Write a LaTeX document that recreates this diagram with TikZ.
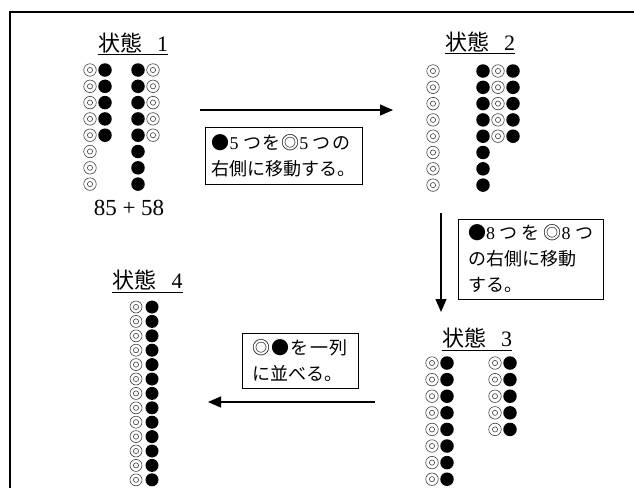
\documentclass[tikz,border=0pt]{standalone}
\usepackage{fontspec}
\setmainfont{Liberation Serif}
\newfontfamily\jpf{Noto Sans CJK JP}
\usetikzlibrary{arrows.meta}
\makeatletter
\newdimen\lsp
\newcommand\lspc[1]{\def\lsep{}\@tfor\jc:=#1\do{\lsep\jc\def\lsep{\kern\lsp}}}
\makeatother
\begin{document}
\begin{tikzpicture}[x=1pt,y=-1pt,
  ring/.style={circle, draw=black!75, line width=0.6pt, minimum size=12.5pt, inner sep=0pt,
    path picture={\draw[black!75, line width=0.6pt] (path picture bounding box.center) circle (2.6pt);}},
  bead/.style={circle, fill=black, minimum size=13.5pt, inner sep=0pt},
  sring/.style={ring, minimum size=12pt},
  sbead/.style={bead, minimum size=13pt},
  title/.style={font=\fontsize{22}{22}\selectfont, inner sep=0pt, anchor=base},
  uline/.style={line width=0.7pt},
  jbox/.style={draw, line width=0.9pt, inner sep=0pt, align=left, font=\fontsize{18}{26}\selectfont},
  arr/.style={line width=1.3pt, -{Triangle[length=13pt,width=11pt]}},
  frame/.style={line width=1.5pt}]
\useasboundingbox (0,0) rectangle (634,488);
\fill[white] (0,0) rectangle (634,488);
% frame
\coordinate (fr1) at (10,488);
\coordinate (fr2) at (10,12);
\coordinate (fr3) at (634,12);
\draw[frame] (fr1) -- (fr2) -- (fr3);

% ---- state 1
\node[title] (t1) at (133,51) {{\jpf 状態}\hspace{15pt}1};
\draw[uline] ([yshift=-3.5pt]t1.base west) -- ([yshift=-3.5pt]t1.base east);
\foreach \i in {0,...,7} {
  \node[ring] (s1a\i) at (90,{70+16.3*\i}) {};
  \node[bead] (s1c\i) at (138,{70+16.3*\i}) {};
}
\foreach \i in {0,...,4} {
  \node[bead] (s1b\i) at (105,{70+16.3*\i}) {};
  \node[ring] (s1d\i) at (153,{70+16.3*\i}) {};
}
\node[font=\fontsize{23}{23}\selectfont, inner sep=0pt] (sum1) at (129,208) {85 + 58};

% ---- state 2
\node[title] (t2) at (480,50) {{\jpf 状態}\hspace{15pt}2};
\draw[uline] ([yshift=-3.5pt]t2.base west) -- ([yshift=-3.5pt]t2.base east);
\foreach \i in {0,...,7} {
  \node[ring] (s2a\i) at (433,{71+16.3*\i}) {};
  \node[bead] (s2b\i) at (483,{71+16.3*\i}) {};
}
\foreach \i in {0,...,4} {
  \node[ring] (s2c\i) at (498,{71+16.3*\i}) {};
  \node[bead] (s2d\i) at (513,{71+16.3*\i}) {};
}

% ---- arrow 1 and box 1
\coordinate (a1s) at (200,110);
\coordinate (a1e) at (393,110);
\draw[arr] (a1s) -- (a1e);
\node[jbox, minimum width=157pt, minimum height=57pt] (m1) at (283.5,155.5)
  {\lsp=1.2pt{\jpf ●}5\ {\jpf\lspc{つを◎}}5\ {\jpf\lspc{つの}}\\
   {\jpf\lspc{右側に移動する。}}};

% ---- arrow 2 and box 2
\coordinate (a2s) at (441,213);
\coordinate (a2e) at (441,312);
\draw[arr] (a2s) -- (a2e);
\node[jbox, minimum width=145pt, minimum height=80pt] (m2) at (530.5,259)
  {\lsp=4pt{\jpf ●}8\ {\jpf\lspc{つを◎}}8\ {\jpf つ}\\
   {\jpf\lspc{の右側に移動}}\\
   {\jpf\lspc{する。}}};

% ---- state 3
\node[title] (t3) at (477,346) {{\jpf 状態}\hspace{15pt}3};
\draw[uline] ([yshift=-4.5pt]t3.base west) -- ([yshift=-4.5pt]t3.base east);
\foreach \i in {0,...,7} {
  \node[ring] (s3a\i) at (432,{363+16.6*\i}) {};
  \node[bead] (s3b\i) at (447,{363+16.6*\i}) {};
}
\foreach \i in {0,...,4} {
  \node[ring] (s3c\i) at (495,{363+16.6*\i}) {};
  \node[bead] (s3d\i) at (510,{363+16.6*\i}) {};
}

% ---- arrow 3 and box 3
\coordinate (a3s) at (375,402);
\coordinate (a3e) at (208,402);
\draw[arr] (a3s) -- (a3e);
\node[jbox, minimum width=116pt, minimum height=55pt] (m3) at (300,360.5)
  {\lsp=1.5pt{\jpf\lspc{◎●を一列}}\\
   {\jpf\lspc{に並べる。}}};

% ---- state 4
\node[title] (t4) at (147.5,288) {{\jpf 状態}\hspace{15pt}4};
\draw[uline] ([yshift=-4.5pt]t4.base west) -- ([yshift=-4.5pt]t4.base east);
\foreach \i in {0,...,12} {
  \node[sring] (s4a\i) at (136,{307+14.4*\i}) {};
  \node[sbead] (s4b\i) at (152,{307+14.4*\i}) {};
}
\end{tikzpicture}
\end{document}
